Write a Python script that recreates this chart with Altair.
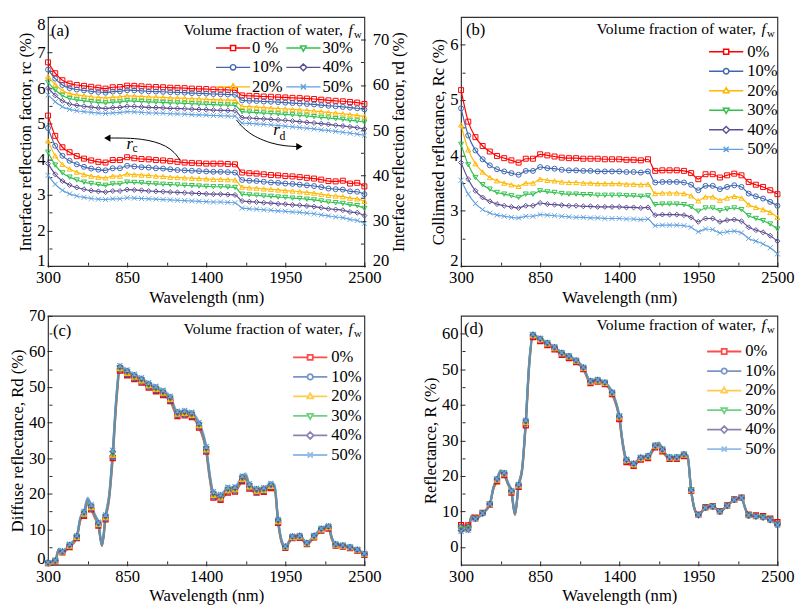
import altair as alt
import pandas as pd

FONT = "Liberation Serif"

# ---------------- data ----------------
fw_labels = ["0%", "10%", "20%", "30%", "40%", "50%"]
fw_labels_a = ["0 %", "10%", "20%", "30%", "40%", "50%"]

wl_ab = [300, 350, 400, 450, 500, 550, 600, 650, 700, 750, 800, 850, 900, 950, 1000,
         1050, 1100, 1150, 1200, 1250, 1300, 1350, 1400, 1450, 1500, 1550, 1600, 1650,
         1700, 1750, 1800, 1850, 1900, 1950, 2000, 2050, 2100, 2150, 2200, 2250, 2300,
         2350, 2400, 2450, 2500]

# (a) interface reflection factor r_c (left axis)
a_rc_0 = [5.23, 4.66, 4.34, 4.20, 4.09, 4.02, 3.97, 3.93, 3.91, 3.98, 3.98, 4.06, 4.03, 4.01, 4.00,
          3.98, 3.97, 3.95, 3.93, 3.91, 3.90, 3.89, 3.88, 3.88, 3.88, 3.87, 3.86, 3.63, 3.61, 3.60,
          3.58, 3.56, 3.55, 3.53, 3.52, 3.50, 3.48, 3.46, 3.43, 3.39, 3.38, 3.40, 3.32, 3.34, 3.24]
a_rc_10 = [4.88, 4.38, 4.10, 3.96, 3.86, 3.79, 3.74, 3.71, 3.69, 3.75, 3.75, 3.82, 3.80, 3.78, 3.77,
           3.75, 3.74, 3.72, 3.70, 3.69, 3.68, 3.67, 3.66, 3.65, 3.65, 3.64, 3.63, 3.42, 3.40, 3.39,
           3.37, 3.35, 3.34, 3.32, 3.31, 3.29, 3.27, 3.25, 3.22, 3.18, 3.16, 3.15, 3.10, 3.09, 3.02]
a_rc_20 = [4.52, 4.10, 3.86, 3.73, 3.64, 3.57, 3.53, 3.50, 3.48, 3.53, 3.53, 3.59, 3.57, 3.56, 3.55,
           3.53, 3.52, 3.50, 3.49, 3.48, 3.47, 3.46, 3.45, 3.44, 3.44, 3.43, 3.42, 3.22, 3.20, 3.19,
           3.17, 3.16, 3.14, 3.12, 3.11, 3.09, 3.07, 3.05, 3.02, 2.99, 2.97, 2.95, 2.91, 2.89, 2.82]
a_rc_30 = [4.20, 3.84, 3.62, 3.50, 3.42, 3.36, 3.32, 3.29, 3.27, 3.31, 3.31, 3.36, 3.35, 3.34, 3.32,
           3.31, 3.30, 3.29, 3.28, 3.27, 3.26, 3.25, 3.24, 3.23, 3.23, 3.22, 3.21, 3.02, 3.00, 2.99,
           2.97, 2.96, 2.94, 2.93, 2.91, 2.90, 2.88, 2.86, 2.83, 2.80, 2.78, 2.76, 2.72, 2.70, 2.62]
a_rc_40 = [3.88, 3.58, 3.39, 3.28, 3.21, 3.16, 3.12, 3.10, 3.08, 3.11, 3.11, 3.15, 3.14, 3.13, 3.11,
           3.10, 3.09, 3.08, 3.07, 3.06, 3.05, 3.04, 3.03, 3.02, 3.02, 3.01, 3.00, 2.83, 2.81, 2.80,
           2.78, 2.77, 2.75, 2.74, 2.72, 2.71, 2.69, 2.67, 2.64, 2.61, 2.59, 2.57, 2.52, 2.50, 2.42]
a_rc_50 = [3.55, 3.30, 3.13, 3.03, 2.97, 2.93, 2.90, 2.88, 2.87, 2.89, 2.89, 2.92, 2.91, 2.90, 2.89,
           2.88, 2.87, 2.86, 2.85, 2.84, 2.83, 2.82, 2.81, 2.80, 2.80, 2.79, 2.78, 2.63, 2.61, 2.60,
           2.58, 2.57, 2.55, 2.54, 2.52, 2.51, 2.49, 2.47, 2.44, 2.41, 2.38, 2.36, 2.31, 2.28, 2.20]

# (a) interface reflection factor r_d (right axis)
a_rd_0 = [65.0, 62.6, 61.05, 60.3, 60.0, 59.8, 59.6, 59.4, 59.2, 59.5, 59.55, 59.85, 59.8, 59.7, 59.6,
          59.55, 59.5, 59.4, 59.35, 59.3, 59.2, 59.15, 59.1, 59.0, 58.95, 58.9, 58.85, 57.7, 57.6, 57.55,
          57.45, 57.4, 57.3, 57.25, 57.15, 57.1, 57.0, 56.9, 56.75, 56.6, 56.5, 56.4, 56.25, 56.1, 55.8]
a_rd_10 = [63.4, 61.4, 60.0, 59.3, 59.0, 58.8, 58.6, 58.45, 58.3, 58.55, 58.6, 58.85, 58.8, 58.7, 58.6,
           58.55, 58.5, 58.4, 58.35, 58.3, 58.2, 58.15, 58.1, 58.0, 57.95, 57.9, 57.85, 56.6, 56.5, 56.45,
           56.35, 56.3, 56.2, 56.1, 56.0, 55.9, 55.8, 55.7, 55.55, 55.4, 55.3, 55.15, 55.0, 54.85, 54.6]
a_rd_20 = [61.9, 60.1, 58.8, 58.1, 57.8, 57.6, 57.4, 57.25, 57.1, 57.3, 57.35, 57.6, 57.55, 57.45, 57.35,
           57.3, 57.25, 57.15, 57.1, 57.05, 56.95, 56.9, 56.85, 56.75, 56.7, 56.65, 56.6, 55.3, 55.2, 55.1,
           55.0, 54.9, 54.8, 54.7, 54.6, 54.5, 54.4, 54.25, 54.1, 53.95, 53.8, 53.65, 53.45, 53.3, 53.0]
a_rd_30 = [60.6, 58.9, 57.7, 57.0, 56.7, 56.5, 56.3, 56.15, 56.0, 56.2, 56.25, 56.5, 56.45, 56.35, 56.25,
           56.2, 56.15, 56.05, 56.0, 55.95, 55.85, 55.8, 55.75, 55.65, 55.6, 55.55, 55.5, 54.1, 54.0, 53.9,
           53.8, 53.7, 53.6, 53.5, 53.4, 53.3, 53.15, 53.0, 52.85, 52.7, 52.55, 52.4, 52.2, 52.05, 51.8]
a_rd_40 = [59.3, 57.7, 56.5, 55.8, 55.5, 55.3, 55.1, 54.95, 54.8, 55.0, 55.05, 55.3, 55.25, 55.15, 55.05,
           55.0, 54.95, 54.85, 54.8, 54.75, 54.65, 54.6, 54.55, 54.45, 54.4, 54.35, 54.3, 52.8, 52.7, 52.6,
           52.5, 52.4, 52.3, 52.2, 52.05, 51.9, 51.75, 51.6, 51.45, 51.3, 51.1, 50.95, 50.75, 50.55, 50.3]
a_rd_50 = [57.8, 56.3, 55.2, 54.6, 54.3, 54.1, 53.95, 53.8, 53.7, 53.85, 53.9, 54.1, 54.05, 53.95, 53.85,
           53.8, 53.75, 53.65, 53.6, 53.55, 53.45, 53.4, 53.35, 53.25, 53.2, 53.15, 53.1, 51.6, 51.5, 51.4,
           51.3, 51.2, 51.05, 50.9, 50.75, 50.6, 50.45, 50.3, 50.1, 49.95, 49.75, 49.55, 49.35, 49.15, 48.9]

# (b) collimated reflectance R_c
b_0 = [5.18, 4.61, 4.33, 4.17, 4.07, 3.99, 3.95, 3.91, 3.87, 3.94, 3.94, 4.02, 4.00, 3.98, 3.96,
       3.95, 3.95, 3.94, 3.94, 3.94, 3.93, 3.93, 3.93, 3.92, 3.92, 3.91, 3.93, 3.72, 3.73, 3.73,
       3.73, 3.72, 3.68, 3.57, 3.66, 3.66, 3.60, 3.64, 3.67, 3.64, 3.52, 3.47, 3.43, 3.37, 3.30]
b_10 = [4.85, 4.36, 4.09, 3.93, 3.82, 3.75, 3.71, 3.68, 3.65, 3.72, 3.72, 3.79, 3.77, 3.76, 3.74,
        3.73, 3.73, 3.72, 3.72, 3.71, 3.71, 3.71, 3.71, 3.70, 3.70, 3.69, 3.71, 3.51, 3.52, 3.52,
        3.52, 3.51, 3.47, 3.37, 3.45, 3.45, 3.39, 3.43, 3.46, 3.43, 3.31, 3.26, 3.22, 3.16, 3.09]
b_20 = [4.55, 4.10, 3.85, 3.70, 3.60, 3.54, 3.50, 3.47, 3.44, 3.50, 3.50, 3.57, 3.55, 3.54, 3.52,
        3.51, 3.51, 3.50, 3.50, 3.49, 3.49, 3.49, 3.49, 3.48, 3.48, 3.47, 3.48, 3.31, 3.32, 3.32,
        3.32, 3.31, 3.27, 3.18, 3.25, 3.25, 3.19, 3.23, 3.26, 3.23, 3.11, 3.06, 3.02, 2.97, 2.88]
b_30 = [4.20, 3.83, 3.60, 3.47, 3.39, 3.33, 3.30, 3.27, 3.24, 3.30, 3.30, 3.36, 3.34, 3.33, 3.31,
        3.30, 3.30, 3.29, 3.29, 3.28, 3.28, 3.28, 3.28, 3.27, 3.27, 3.26, 3.27, 3.11, 3.12, 3.12,
        3.12, 3.11, 3.07, 2.99, 3.05, 3.05, 3.00, 3.03, 3.05, 3.02, 2.91, 2.86, 2.82, 2.76, 2.67]
b_40 = [3.87, 3.57, 3.36, 3.24, 3.17, 3.12, 3.09, 3.07, 3.05, 3.09, 3.09, 3.14, 3.12, 3.11, 3.10,
        3.09, 3.09, 3.08, 3.08, 3.07, 3.07, 3.07, 3.07, 3.06, 3.06, 3.05, 3.06, 2.92, 2.93, 2.93,
        2.93, 2.92, 2.88, 2.80, 2.86, 2.86, 2.80, 2.83, 2.84, 2.81, 2.70, 2.65, 2.61, 2.55, 2.45]
b_50 = [3.55, 3.30, 3.13, 3.02, 2.96, 2.92, 2.90, 2.88, 2.87, 2.90, 2.90, 2.93, 2.92, 2.91, 2.90,
        2.89, 2.88, 2.88, 2.87, 2.87, 2.86, 2.86, 2.86, 2.85, 2.85, 2.84, 2.85, 2.73, 2.74, 2.74,
        2.74, 2.73, 2.70, 2.62, 2.67, 2.66, 2.60, 2.62, 2.63, 2.60, 2.50, 2.45, 2.40, 2.33, 2.22]

wl_cd = [300, 350, 375, 400, 450, 500, 525, 550, 575, 600, 625, 650, 675, 700, 725, 750, 775, 800,
         850, 900, 950, 1000, 1050, 1100, 1150, 1200, 1250, 1300, 1350, 1400, 1425, 1450, 1500,
         1550, 1600, 1650, 1675, 1700, 1750, 1800, 1850, 1875, 1900, 1925, 1950, 2000, 2050, 2100,
         2150, 2200, 2250, 2275, 2300, 2350, 2400, 2450, 2500]

# (c) diffuse reflectance R_d
c_0 = [0.5, 1.0, 4.0, 3.5, 5.0, 7.5, 12.5, 13.8, 17.3, 15.6, 13.2, 11.0, 5.3, 12.8, 18.5, 30.0, 45.5, 54.6,
       53.3, 52.2, 51.2, 49.8, 48.8, 47.7, 46.0, 41.8, 42.0, 41.5, 38.6, 31.8, 24.0, 18.9, 18.3,
       20.3, 20.6, 23.5, 24.3, 21.4, 20.3, 20.5, 21.6, 21.3, 11.8, 6.2, 4.8, 7.5, 7.6, 5.8,
       7.7, 9.6, 10.2, 7.0, 5.4, 5.1, 4.7, 4.0, 2.8]
c_10 = [0.5, 1.1, 4.1, 3.6, 5.2, 7.6, 12.7, 14.0, 17.6, 15.9, 13.4, 11.2, 5.4, 13.0, 18.8, 30.4, 45.9, 54.9,
        53.6, 52.5, 51.5, 50.1, 49.1, 48.0, 46.3, 42.1, 42.3, 41.8, 38.9, 32.1, 24.3, 19.2, 18.6,
        20.6, 20.9, 23.8, 24.6, 21.7, 20.5, 20.7, 21.9, 21.6, 12.0, 6.3, 4.9, 7.6, 7.7, 5.9,
        7.8, 9.7, 10.4, 7.1, 5.5, 5.2, 4.8, 4.1, 2.9]
c_20 = [0.6, 1.1, 4.2, 3.7, 5.3, 7.8, 12.9, 14.3, 17.9, 16.1, 13.6, 11.4, 5.4, 13.3, 19.0, 30.9, 46.3, 55.2,
        53.9, 52.8, 51.8, 50.4, 49.4, 48.3, 46.6, 42.4, 42.6, 42.1, 39.2, 32.4, 24.6, 19.6, 18.9,
        20.9, 21.2, 24.1, 24.9, 22.0, 20.8, 21.0, 22.1, 21.8, 12.2, 6.5, 5.0, 7.7, 7.9, 6.0,
        7.9, 9.9, 10.5, 7.2, 5.6, 5.3, 4.9, 4.2, 3.0]
c_30 = [0.6, 1.2, 4.4, 3.7, 5.5, 7.9, 13.1, 14.5, 18.3, 16.4, 13.9, 11.6, 5.5, 13.5, 19.3, 31.3, 46.7, 55.4,
        54.2, 53.0, 52.0, 50.6, 49.6, 48.5, 46.8, 42.6, 42.8, 42.3, 39.4, 32.6, 24.9, 19.9, 19.2,
        21.2, 21.4, 24.4, 25.1, 22.2, 21.0, 21.2, 22.4, 22.1, 12.4, 6.6, 5.1, 7.9, 8.0, 6.1,
        8.1, 10.0, 10.7, 7.4, 5.7, 5.4, 4.9, 4.2, 3.0]
c_40 = [0.7, 1.2, 4.5, 3.8, 5.6, 8.1, 13.3, 14.8, 18.6, 16.6, 14.1, 11.8, 5.5, 13.8, 19.5, 31.8, 47.1, 55.7,
        54.5, 53.3, 52.3, 50.9, 49.9, 48.8, 47.1, 42.9, 43.1, 42.6, 39.7, 32.9, 25.2, 20.3, 19.5,
        21.5, 21.7, 24.7, 25.4, 22.5, 21.3, 21.5, 22.6, 22.3, 12.6, 6.8, 5.2, 8.0, 8.2, 6.2,
        8.2, 10.2, 10.8, 7.5, 5.8, 5.5, 5.0, 4.3, 3.1]
c_50 = [0.7, 1.3, 4.6, 3.9, 5.8, 8.2, 13.5, 15.0, 18.9, 16.9, 14.3, 12.0, 5.6, 14.0, 19.8, 32.2, 47.5, 56.0,
        54.8, 53.6, 52.6, 51.2, 50.2, 49.1, 47.4, 43.2, 43.4, 42.9, 40.0, 33.2, 25.5, 20.6, 19.8,
        21.8, 22.0, 25.0, 25.7, 22.8, 21.5, 21.7, 22.9, 22.6, 12.8, 6.9, 5.3, 8.1, 8.3, 6.3,
        8.3, 10.3, 11.0, 7.6, 5.9, 5.6, 5.1, 4.4, 3.2]

# (d) reflectance R
d_0 = [6.2, 6.1, 8.9, 8.3, 9.6, 11.9, 16.3, 18.5, 21.0, 20.2, 17.7, 15.3, 9.0, 16.9, 21.5, 34.2, 51.3, 59.0,
       57.9, 56.8, 55.6, 54.0, 53.1, 52.0, 50.0, 46.1, 46.5, 45.8, 43.0, 36.0, 28.4, 23.9, 22.8,
       24.6, 25.0, 28.0, 28.7, 26.9, 24.8, 24.8, 25.6, 25.2, 15.8, 10.6, 9.1, 11.2, 11.5, 10.1,
       11.7, 13.4, 13.9, 11.1, 9.1, 8.9, 8.7, 8.0, 7.0]
d_10 = [5.6, 5.6, 8.8, 8.1, 9.5, 12.0, 16.5, 18.8, 21.2, 20.5, 17.9, 15.5, 9.1, 17.2, 21.9, 35.0, 51.8, 59.4,
        58.3, 57.1, 55.9, 54.3, 53.4, 52.2, 50.2, 46.4, 46.7, 46.0, 43.2, 36.5, 28.9, 24.3, 23.2,
        24.9, 25.3, 28.3, 29.0, 27.2, 25.0, 25.0, 25.8, 25.4, 15.9, 10.5, 9.0, 11.1, 11.4, 10.0,
        11.6, 13.3, 13.8, 11.0, 8.9, 8.7, 8.5, 7.8, 6.5]
d_20 = [5.2, 5.3, 8.8, 8.0, 9.5, 12.0, 16.6, 18.9, 21.3, 20.6, 18.0, 15.6, 9.2, 17.3, 22.0, 35.1, 52.0, 59.5,
        58.4, 57.2, 56.0, 54.4, 53.5, 52.3, 50.3, 46.5, 46.8, 46.1, 43.3, 36.6, 29.0, 24.4, 23.3,
        25.0, 25.4, 28.4, 29.1, 27.3, 25.1, 25.1, 25.9, 25.5, 15.9, 10.5, 9.0, 11.1, 11.4, 10.0,
        11.6, 13.3, 13.8, 11.0, 8.9, 8.6, 8.4, 7.7, 6.4]
d_30 = [4.9, 5.1, 8.8, 8.0, 9.5, 12.0, 16.7, 19.0, 21.4, 20.7, 18.1, 15.7, 9.2, 17.4, 22.1, 35.3, 52.2, 59.6,
        58.5, 57.3, 56.1, 54.5, 53.6, 52.4, 50.4, 46.6, 46.9, 46.2, 43.4, 36.7, 29.1, 24.5, 23.4,
        25.1, 25.5, 28.5, 29.2, 27.4, 25.2, 25.2, 26.0, 25.6, 16.0, 10.5, 9.0, 11.1, 11.4, 10.0,
        11.6, 13.3, 13.8, 11.0, 8.9, 8.6, 8.4, 7.7, 6.3]
d_40 = [4.6, 4.9, 8.7, 7.9, 9.5, 12.1, 16.8, 19.1, 21.5, 20.8, 18.2, 15.8, 9.3, 17.5, 22.2, 35.5, 52.4, 59.7,
        58.6, 57.4, 56.2, 54.6, 53.7, 52.5, 50.5, 46.7, 47.0, 46.3, 43.5, 36.8, 29.2, 24.6, 23.5,
        25.2, 25.6, 28.6, 29.3, 27.5, 25.3, 25.3, 26.1, 25.7, 16.0, 10.5, 9.0, 11.1, 11.4, 10.0,
        11.6, 13.3, 13.8, 11.0, 8.9, 8.6, 8.3, 7.6, 6.2]
d_50 = [4.4, 4.7, 8.7, 7.9, 9.5, 12.1, 16.9, 19.2, 21.6, 20.9, 18.3, 15.9, 9.3, 17.6, 22.3, 35.7, 52.6, 59.8,
        58.7, 57.5, 56.3, 54.7, 53.8, 52.6, 50.6, 46.8, 47.1, 46.4, 43.6, 36.9, 29.3, 24.7, 23.6,
        25.3, 25.7, 28.7, 29.4, 27.6, 25.4, 25.4, 26.2, 25.8, 16.1, 10.5, 9.0, 11.1, 11.4, 10.0,
        11.6, 13.3, 13.8, 11.0, 8.9, 8.6, 8.3, 7.6, 6.2]

# annotation arrows in (a)
rc_arc_wl = [720, 850, 950, 1040, 1120, 1180, 1220]
rc_arc_v = [4.60, 4.60, 4.57, 4.50, 4.38, 4.20, 3.97]
rd_arc_wl = [1610, 1650, 1700, 1750, 1850, 1950, 2040]
rd_arc_v = [52.3, 50.7, 49.4, 48.4, 47.1, 46.5, 46.4]

# tick values
x_ticks = [300, 575, 850, 1125, 1400, 1675, 1950, 2225, 2500]
ya_left_ticks = [1, 1.5, 2, 2.5, 3, 3.5, 4, 4.5, 5, 5.5, 6, 6.5, 7, 7.5, 8]
ya_right_ticks = [20, 25, 30, 35, 40, 45, 50, 55, 60, 65, 70]
yb_ticks = [2, 2.5, 3, 3.5, 4, 4.5, 5, 5.5, 6]
yc_ticks = [0, 5, 10, 15, 20, 25, 30, 35, 40, 45, 50, 55, 60, 65, 70]
yd_ticks = [0, 5, 10, 15, 20, 25, 30, 35, 40, 45, 50, 55, 60]

# ---------------- styles ----------------
series_colors = ["#ff0000", "#3f67b1", "#ffb800", "#33c04f", "#5e4f92", "#62a0de"]
marker_shapes = ["square", "circle", "triangle-up", "triangle-down", "diamond",
                 "M-1,-1L1,1M-1,1L1,-1"]
# legend symbols: a line with the marker in its middle (unit = sqrt(136)/2 px)
legend_symbols = [
    "M-3,0H-0.45M0.45,0H3M-0.45,-0.45H0.45V0.45H-0.45Z",
    "M-3,0H-0.48M0.48,0H3M0.48,0A0.48,0.48,0,1,1,-0.48,0A0.48,0.48,0,1,1,0.48,0",
    "M-3,0H-0.4M0.4,0H3M0,-0.55L0.5,0.35L-0.5,0.35Z",
    "M-3,0H-0.4M0.4,0H3M0,0.55L0.5,-0.35L-0.5,-0.35Z",
    "M-3,0H-0.6M0.6,0H3M0,-0.6L0.6,0L0,0.6L-0.6,0Z",
    "M-3,0H3M-0.45,-0.45L0.45,0.45M-0.45,0.45L0.45,-0.45",
]
LEG_SIZE = 136


def make_df(wl, series, labels):
    rows = []
    for lab, vals in zip(labels, series):
        for w, v in zip(wl, vals):
            rows.append({"wl": w, "v": v, "fw": lab})
    return pd.DataFrame(rows)


def tsize(test):
    return {"condition": {"test": test, "value": 5}, "value": 3}


XSCALE = alt.Scale(domain=[300, 2500], nice=False, zero=False)
X_AXIS = alt.Axis(title="Wavelength (nm)", values=x_ticks, format="d",
                  labelExpr="datum.value % 550 == 300 ? datum.label : ''",
                  tickSize=tsize("datum.value % 550 == 300"),
                  offset=-4, labelPadding=3, titlePadding=4,
                  labelFlush=False, labelOverlap=False)


def y_axis(title, values, major, orient="left", top_value=None, bottom_value=None):
    test = f"datum.value % {major} == 0"
    kw = dict(title=title, orient=orient, values=values,
              labelExpr=f"{test} ? format(datum.value, 'd') : ''",
              tickSize=tsize(test), offset=-4, labelPadding=2, titlePadding=2,
              labelOverlap=False, labelFlush=False)
    if top_value is not None:
        kw["labelBaseline"] = {"condition": {"test": f"datum.value == {top_value}", "value": "top"},
                               "value": "middle"}
    if bottom_value is not None:
        kw["labelOffset"] = {"condition": {"test": f"datum.value == {bottom_value}", "value": -6},
                             "value": 0}
    if orient == "right":
        kw["labelPadding"] = 7
        kw["titleAngle"] = 270
        kw["titleBaseline"] = "top"
    return alt.Axis(**kw)


def xy(yscale, yaxis):
    return dict(x=alt.X("wl:Q", scale=XSCALE, axis=X_AXIS),
                y=alt.Y("v:Q", scale=yscale, axis=yaxis))


def series_layers(df, labels, yscale, yaxis, lw, lop, msize, msw):
    enc = xy(yscale, yaxis)
    line = alt.Chart(df).mark_line(interpolate="monotone", strokeWidth=lw, opacity=lop).encode(
        color=alt.Color("fw:N", scale=alt.Scale(range=series_colors), legend=None),
        **enc)
    layers = [line]
    for lab, col, shp in zip(labels, series_colors, marker_shapes):
        layers.append(
            alt.Chart(df)
            .transform_filter(f"datum.fw == '{lab}' && datum.wl % 50 == 0")
            .mark_point(shape=shp, color=col, size=msize, strokeWidth=msw, filled=False, opacity=1)
            .encode(**enc))
    return layers


def legend_layer(df, dom, lx, ly, ncol, sw, op, colpad=18, loff=13):
    leg = alt.Legend(orient="none", legendX=lx, legendY=ly, title=None, columns=ncol,
                     labelFont=FONT, labelFontSize=17, labelColor="black", labelOffset=loff,
                     symbolSize=LEG_SIZE, symbolStrokeWidth=sw, symbolOpacity=op,
                     symbolFillColor="transparent",
                     rowPadding=2, columnPadding=colpad, padding=0)
    return alt.Chart(df).transform_filter("false").mark_point(
        filled=False, size=LEG_SIZE, strokeWidth=sw).encode(
        stroke=alt.Stroke("fw:N", scale=alt.Scale(domain=dom, range=series_colors), legend=leg),
        shape=alt.Shape("fw:N", scale=alt.Scale(domain=dom, range=legend_symbols), legend=leg))


def text_layer(wl, v, t, yscale, yaxis, size=17, style="normal", align="left"):
    df = pd.DataFrame({"wl": wl, "v": v, "t": t})
    return alt.Chart(df).mark_text(font=FONT, fontSize=size, fontStyle=style, align=align,
                                   baseline="alphabetic", color="black").encode(
        text="t:N", **xy(yscale, yaxis))


def header_layers(v_base, v_sub, yscale, yaxis):
    # "Volume fraction of water, f_w" right-aligned at the top of the plot
    return [
        text_layer([2351], [v_base], ["Volume fraction of water,"], yscale, yaxis, 16, "normal", "right"),
        text_layer([2419], [v_base], ["f"], yscale, yaxis, 16, "italic", "right"),
        text_layer([2482], [v_sub], ["w"], yscale, yaxis, 11, "normal", "right"),
    ]


W, H = 324, 255

# ---------------- panel (a) ----------------
df_rc = make_df(wl_ab, [a_rc_0, a_rc_10, a_rc_20, a_rc_30, a_rc_40, a_rc_50], fw_labels_a)
df_rd = make_df(wl_ab, [a_rd_0, a_rd_10, a_rd_20, a_rd_30, a_rd_40, a_rd_50], fw_labels_a)
ya_l_scale = alt.Scale(domain=[1, 8], nice=False, zero=False)
ya_r_scale = alt.Scale(domain=[20, 75], nice=False, zero=False)
ya_l_axis = y_axis("Interface reflection factor, rc (%)", ya_left_ticks, 1, "left",
                   top_value=8, bottom_value=1)
ya_r_axis = y_axis("Interface reflection factor, rd (%)", ya_right_ticks, 10, "right",
                   bottom_value=20)

rc_arc = alt.Chart(pd.DataFrame({"wl": rc_arc_wl, "v": rc_arc_v})).mark_line(
    interpolate="basis", color="black", strokeWidth=1).encode(**xy(ya_l_scale, ya_l_axis))
rc_head = alt.Chart(pd.DataFrame({"wl": [712], "v": [4.60]})).mark_point(
    shape="triangle-left", filled=True, color="black", size=55, opacity=1).encode(**xy(ya_l_scale, ya_l_axis))
rd_arc = alt.Chart(pd.DataFrame({"wl": rd_arc_wl, "v": rd_arc_v})).mark_line(
    interpolate="basis", color="black", strokeWidth=1).encode(**xy(ya_r_scale, ya_r_axis))
rd_head = alt.Chart(pd.DataFrame({"wl": [2048], "v": [46.4]})).mark_point(
    shape="triangle-right", filled=True, color="black", size=55, opacity=1).encode(**xy(ya_r_scale, ya_r_axis))

left_a = alt.layer(
    *series_layers(df_rc, fw_labels_a, ya_l_scale, ya_l_axis, 1.2, 1, 26, 1.0),
    rc_arc, rc_head,
    text_layer([845], [4.3], ["r"], ya_l_scale, ya_l_axis, 17, "italic"),
    text_layer([887], [4.2], ["c"], ya_l_scale, ya_l_axis, 12),
    text_layer([320], [7.47], ["(a)"], ya_l_scale, ya_l_axis, 17),
    *header_layers(7.5, 7.4, ya_l_scale, ya_l_axis),
    legend_layer(df_rc, fw_labels_a, 181, 23, 2, 1.5, 1, colpad=0, loff=11),
)
right_a = alt.layer(
    *series_layers(df_rd, fw_labels_a, ya_r_scale, ya_r_axis, 1.2, 1, 26, 1.0),
    rd_arc, rd_head,
    text_layer([1866], [48.9], ["r"], ya_r_scale, ya_r_axis, 17, "italic"),
    text_layer([1910], [47.9], ["d"], ya_r_scale, ya_r_axis, 12),
)
pa = alt.layer(left_a, right_a).resolve_scale(y="independent").properties(width=W, height=H)

# ---------------- panel (b) ----------------
df_b = make_df(wl_ab, [b_0, b_10, b_20, b_30, b_40, b_50], fw_labels)
yb_scale = alt.Scale(domain=[2, 6.5], nice=False, zero=False)
yb_axis = y_axis("Collimated reflectance, Rc (%)", yb_ticks, 1, bottom_value=2)
pb = alt.layer(
    *series_layers(df_b, fw_labels, yb_scale, yb_axis, 1.2, 1, 26, 1.0),
    text_layer([334], [6.17], ["(b)"], yb_scale, yb_axis, 17),
    *header_layers(6.2, 6.135, yb_scale, yb_axis),
    legend_layer(df_b, fw_labels, 263, 27, 1, 1.5, 1),
).properties(width=W, height=H)

# ---------------- panel (c) ----------------
df_c = make_df(wl_cd, [c_0, c_10, c_20, c_30, c_40, c_50], fw_labels)
yc_scale = alt.Scale(domain=[0, 70], nice=False, zero=False)
yc_axis = y_axis("Diffuse reflectance, Rd (%)", yc_ticks, 10, bottom_value=0)
pc = alt.layer(
    *series_layers(df_c, fw_labels, yc_scale, yc_axis, 2.2, 0.6, 26, 1.3),
    text_layer([334], [64.4], ["(c)"], yc_scale, yc_axis, 17),
    *header_layers(64.8, 64.0, yc_scale, yc_axis),
    legend_layer(df_c, fw_labels, 260, 34, 1, 1.8, 0.7),
).properties(width=W, height=H)

# ---------------- panel (d) ----------------
df_d = make_df(wl_cd, [d_0, d_10, d_20, d_30, d_40, d_50], fw_labels)
yd_scale = alt.Scale(domain=[-5, 65], nice=False, zero=False)
yd_axis = y_axis("Reflectance, R (%)", yd_ticks, 10)
pd_ = alt.layer(
    *series_layers(df_d, fw_labels, yd_scale, yd_axis, 2.2, 0.6, 26, 1.3),
    text_layer([320], [59.8], ["(d)"], yd_scale, yd_axis, 17),
    *header_layers(60.9, 60.1, yd_scale, yd_axis),
    legend_layer(df_d, fw_labels, 261, 28, 1, 1.8, 0.7),
).properties(width=W, height=H)

chart = alt.concat(pa, pb, pc, pd_, columns=2, bounds="flush",
                   spacing={"row": 51, "column": 99}).resolve_scale(
    color="independent", stroke="independent", shape="independent"
).properties(
    padding={"left": 0, "top": 0, "right": 0, "bottom": 0}
).configure_view(stroke="#333", strokeWidth=1.2).configure_axis(
    labelFont=FONT, labelFontSize=17, titleFont=FONT, titleFontSize=17,
    titleFontWeight="normal", labelColor="black", titleColor="black",
    tickColor="#222", domain=False, grid=False)

chart.save("out.html", embed_options={"renderer": "svg", "actions": False})
